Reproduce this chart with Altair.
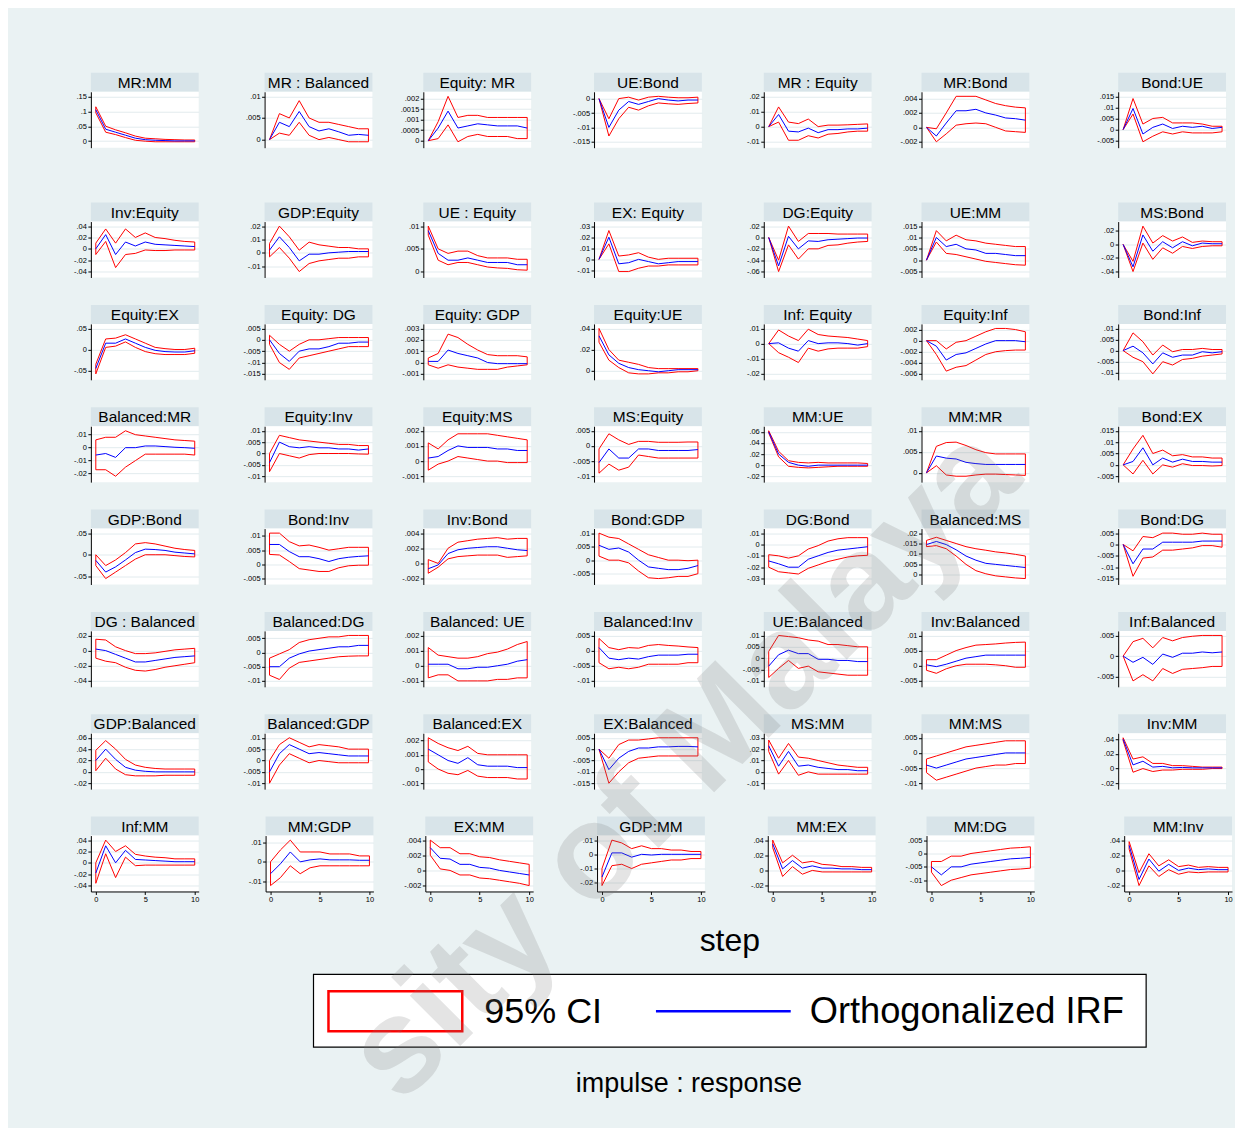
import altair as alt
import pandas as pd

FONT = "Liberation Sans"
STEPS = list(range(11))
STEP_TICKS = [0, 5, 10]

TITLES = [
    "MR:MM", "MR : Balanced", "Equity: MR", "UE:Bond", "MR : Equity", "MR:Bond", "Bond:UE",
    "Inv:Equity", "GDP:Equity", "UE : Equity", "EX: Equity", "DG:Equity", "UE:MM", "MS:Bond",
    "Equity:EX", "Equity: DG", "Equity: GDP", "Equity:UE", "Inf: Equity", "Equity:Inf", "Bond:Inf",
    "Balanced:MR", "Equity:Inv", "Equity:MS", "MS:Equity", "MM:UE", "MM:MR", "Bond:EX",
    "GDP:Bond", "Bond:Inv", "Inv:Bond", "Bond:GDP", "DG:Bond", "Balanced:MS", "Bond:DG",
    "DG : Balanced", "Balanced:DG", "Balanced: UE", "Balanced:Inv", "UE:Balanced", "Inv:Balanced", "Inf:Balanced",
    "GDP:Balanced", "Balanced:GDP", "Balanced:EX", "EX:Balanced", "MS:MM", "MM:MS", "Inv:MM",
    "Inf:MM", "MM:GDP", "EX:MM", "GDP:MM", "MM:EX", "MM:DG", "MM:Inv",
]

YTICKS = [
    [0, .05, .1, .15], [0, .005, .01], [0, .0005, .001, .0015, .002], [-.015, -.01, -.005, 0],
    [-.01, 0, .01, .02], [-.002, 0, .002, .004], [-.005, 0, .005, .01, .015],
    [-.04, -.02, 0, .02, .04], [-.01, 0, .01, .02], [0, .005, .01], [-.01, 0, .01, .02, .03],
    [-.06, -.04, -.02, 0, .02], [-.005, 0, .005, .01, .015], [-.04, -.02, 0, .02],
    [-.05, 0, .05], [-.015, -.01, -.005, 0, .005], [-.001, 0, .001, .002, .003], [0, .02, .04],
    [-.02, -.01, 0, .01], [-.006, -.004, -.002, 0, .002], [-.01, -.005, 0, .005, .01],
    [-.02, -.01, 0, .01], [-.01, -.005, 0, .005, .01], [-.001, 0, .001, .002], [-.01, -.005, 0, .005],
    [-.02, 0, .02, .04, .06], [0, .005, .01], [-.005, 0, .005, .01, .015],
    [-.05, 0, .05], [-.005, 0, .005, .01], [-.002, 0, .002, .004], [-.005, 0, .005, .01],
    [-.03, -.02, -.01, 0, .01], [0, .005, .01, .015, .02], [-.015, -.01, -.005, 0, .005],
    [-.04, -.02, 0, .02], [-.01, -.005, 0, .005], [-.001, 0, .001, .002], [-.01, -.005, 0, .005],
    [-.01, -.005, 0, .005, .01], [-.005, 0, .005, .01], [-.005, 0, .005],
    [-.02, 0, .02, .04, .06], [-.01, -.005, 0, .005, .01], [-.001, 0, .001, .002],
    [-.015, -.01, -.005, 0, .005], [-.01, 0, .01, .02, .03], [-.01, -.005, 0, .005], [-.02, 0, .02, .04],
    [-.04, -.02, 0, .02, .04], [-.01, 0, .01], [-.002, 0, .002, .004], [-.02, -.01, 0, .01],
    [-.02, 0, .02, .04], [-.01, -.005, 0, .005], [-.02, 0, .02, .04],
]

LOWER = [
    [0.095, 0.03, 0.022, 0.012, 0.003, 0, -0.002, -0.002, -0.002, -0.002, -0.002],
    [0, 0.0015, 0.001, 0.004, 0.001, 0, 0.0005, 0, -0.0005, -0.0005, -0.0005],
    [0, 0.0001, 0.00075, -0.00005, 0.0002, 0.0003, 0.0002, 0.0002, 0.0002, 0.0001, 0.0001],
    [0, -0.013, -0.007, -0.003, -0.004, -0.0025, -0.0015, -0.0018, -0.002, -0.0017, -0.0015],
    [0, 0.003, -0.009, -0.009, -0.006, -0.0075, -0.005, -0.0045, -0.0035, -0.003, -0.003],
    [0, -0.002, -0.0009, 0.0003, 0.0005, 0.0006, 0.0005, 0, -0.0005, -0.0006, -0.0007],
    [0, 0.007, -0.0055, -0.003, -0.001, -0.002, -0.001, -0.0015, -0.0015, -0.0015, -0.001],
    [-0.01, 0.013, -0.033, -0.01, -0.008, -0.002, -0.003, -0.003, -0.002, -0.002, -0.002],
    [-0.003, 0.004, -0.004, -0.014, -0.008, -0.006, -0.005, -0.004, -0.004, -0.003, -0.003],
    [0.008, 0.0025, 0.0015, 0.002, 0.002, 0.0015, 0.001, 0.0008, 0.0007, 0.0004, 0.0003],
    [0, 0.014, -0.011, -0.011, -0.008, -0.006, -0.006, -0.005, -0.005, -0.005, -0.005],
    [0, -0.06, -0.013, -0.038, -0.02, -0.02, -0.014, -0.013, -0.01, -0.008, -0.007],
    [0, 0.008, 0.003, 0.0025, 0.0015, 0.0005, -0.0005, -0.001, -0.0015, -0.002, -0.0022],
    [0, -0.04, 0.002, -0.022, -0.005, -0.013, -0.003, -0.006, -0.003, -0.002, -0.002],
    [-0.058, 0.005, 0.008, 0.018, 0.005, -0.005, -0.01, -0.012, -0.012, -0.012, -0.009],
    [-0.002, -0.01, -0.013, -0.008, -0.007, -0.006, -0.005, -0.004, -0.003, -0.003, -0.003],
    [-0.0002, -0.0005, -0.0002, -0.0004, -0.0005, -0.0006, -0.0006, -0.0006, -0.0004, -0.0003, -0.0002],
    [0.027, 0.01, 0.003, -0.002, -0.003, -0.003, -0.002, -0.002, -0.001, -0.001, 0],
    [0, -0.006, -0.009, -0.0125, -0.003, -0.005, -0.0035, -0.003, -0.003, -0.003, -0.002],
    [0, -0.0025, -0.0055, -0.0048, -0.0045, -0.0035, -0.0025, -0.002, -0.0018, -0.0017, -0.0017],
    [0, -0.003, -0.005, -0.0105, -0.005, -0.0065, -0.004, -0.0035, -0.0025, -0.002, -0.0015],
    [-0.017, -0.017, -0.022, -0.015, -0.01, -0.005, -0.005, -0.005, -0.005, -0.005, -0.0057],
    [-0.008, 0, -0.001, -0.002, -0.0005, 0, 0, 0, 0, -0.0002, -0.0003],
    [-0.0006, -0.0002, 0, 0.0003, 0.0002, 0.0001, 0, 0, -0.0001, -0.0001, -0.0001],
    [-0.009, -0.006, -0.008, -0.007, -0.003, -0.0035, -0.004, -0.004, -0.004, -0.004, -0.004],
    [0.058, 0.015, -0.002, -0.004, -0.005, -0.004, -0.003, -0.002, -0.002, -0.002, -0.002],
    [0, 0.0017, -0.0005, -0.0008, -0.0008, -0.0005, -0.0003, -0.0003, -0.0004, -0.0005, -0.0006],
    [0, -0.004, 0.002, -0.004, 0, -0.001, 0.0005, -0.0003, -0.0003, -0.0005, -0.0003],
    [-0.025, -0.055, -0.04, -0.025, -0.01, 0, 0, 0, -0.002, -0.004, -0.005],
    [0.0035, 0.0033, 0.001, -0.0015, -0.002, -0.0025, -0.0025, -0.0012, -0.0005, -0.0003, -0.0003],
    [-0.0013, -0.0005, 0.0006, 0.0009, 0.001, 0.0011, 0.0011, 0.0011, 0.0008, 0.0009, 0.001],
    [0.0015, 0, 0, -0.001, -0.004, -0.0065, -0.0068, -0.0065, -0.006, -0.006, -0.005],
    [-0.02, -0.024, -0.025, -0.026, -0.021, -0.018, -0.015, -0.013, -0.011, -0.01, -0.0095],
    [0.0135, 0.014, 0.0125, 0.009, 0.005, 0.002, 0.0005, -0.0005, -0.001, -0.0015, -0.0018],
    [0, -0.014, -0.006, -0.0055, -0.0025, -0.0025, -0.002, -0.0015, -0.0005, -0.0005, -0.0012],
    [-0.01, -0.014, -0.016, -0.022, -0.026, -0.027, -0.025, -0.022, -0.02, -0.018, -0.016],
    [-0.008, -0.0095, -0.0055, -0.0035, -0.003, -0.0025, -0.002, -0.0015, -0.0013, -0.0012, -0.0012],
    [-0.0008, -0.0006, -0.0006, -0.001, -0.001, -0.001, -0.001, -0.0009, -0.0009, -0.0008, -0.0008],
    [-0.004, -0.006, -0.0055, -0.006, -0.0055, -0.0045, -0.0045, -0.0045, -0.0045, -0.004, -0.004],
    [-0.0085, -0.0045, -0.001, -0.0045, -0.0035, -0.006, -0.0065, -0.007, -0.0075, -0.0075, -0.0075],
    [-0.0015, -0.0025, -0.001, 0, 0.0005, 0.0005, 0.0005, 0.0003, 0, -0.0005, -0.0005],
    [0, -0.006, -0.0045, -0.006, -0.003, -0.0042, -0.0032, -0.003, -0.0028, -0.0025, -0.0025],
    [0.002, 0.024, 0.005, -0.005, -0.007, -0.007, -0.007, -0.006, -0.006, -0.006, -0.006],
    [-0.01, -0.002, 0.003, 0.001, -0.001, 0, -0.0005, -0.001, -0.001, -0.001, -0.001],
    [0.0005, 0, -0.0003, -0.0004, -0.0001, -0.0005, -0.0006, -0.0006, -0.0006, -0.0007, -0.0007],
    [0, -0.015, -0.01, -0.006, -0.004, -0.0035, -0.003, -0.003, -0.003, -0.003, -0.003],
    [0.018, -0.002, 0.01, -0.003, 0, -0.002, -0.002, -0.002, -0.002, -0.002, -0.002],
    [-0.0065, -0.009, -0.008, -0.007, -0.006, -0.005, -0.0045, -0.004, -0.004, -0.0035, -0.0035],
    [0.038, -0.005, 0, -0.004, -0.002, -0.002, -0.001, -0.001, -0.001, 0, 0],
    [-0.036, 0.016, -0.026, 0.01, -0.005, -0.004, -0.004, -0.004, -0.004, -0.004, -0.004],
    [-0.012, -0.008, -0.002, -0.006, -0.003, -0.002, -0.002, -0.002, -0.002, -0.002, -0.002],
    [0.002, 0.0002, 0, -0.0006, -0.0006, -0.001, -0.0011, -0.0013, -0.0015, -0.0017, -0.002],
    [-0.022, -0.008, -0.007, -0.01, -0.007, -0.006, -0.005, -0.004, -0.004, -0.003, -0.003],
    [0.03, -0.008, 0.005, -0.005, 0, -0.002, -0.002, -0.002, -0.002, -0.002, -0.002],
    [-0.007, -0.012, -0.01, -0.009, -0.008, -0.0075, -0.007, -0.0065, -0.006, -0.0058, -0.0055],
    [0.028, -0.02, 0.006, -0.008, 0.001, -0.005, -0.002, -0.003, -0.002, -0.002, -0.002],
]

IRF = [
    [0.105, 0.04, 0.03, 0.02, 0.01, 0.005, 0.003, 0.002, 0.001, 0.001, 0.001],
    [0, 0.004, 0.003, 0.0065, 0.003, 0.002, 0.0025, 0.0018, 0.001, 0.0012, 0.001],
    [0, 0.0006, 0.0014, 0.0006, 0.0007, 0.0008, 0.00075, 0.0007, 0.0007, 0.0007, 0.0006],
    [0, -0.01, -0.004, -0.001, -0.002, -0.001, 0, -0.0005, -0.0008, -0.0005, -0.0005],
    [0, 0.008, -0.003, -0.0035, -0.001, -0.004, -0.002, -0.002, -0.0015, -0.0015, -0.001],
    [0, -0.0012, 0.0006, 0.0023, 0.0023, 0.0025, 0.002, 0.0017, 0.0013, 0.0012, 0.001],
    [0, 0.0095, -0.002, 0.001, 0.0025, 0.0005, 0.0015, 0.001, 0.0015, 0.0005, 0.001],
    [0, 0.025, -0.01, 0.012, 0.005, 0.012, 0.008, 0.007, 0.006, 0.005, 0.004],
    [0.002, 0.012, 0.004, -0.006, -0.001, -0.001, 0, 0.0005, 0.001, 0.001, 0.001],
    [0.009, 0.004, 0.0025, 0.0025, 0.003, 0.0025, 0.002, 0.002, 0.002, 0.0015, 0.0015],
    [0, 0.02, -0.004, -0.003, 0, -0.002, -0.004, -0.003, -0.002, -0.002, -0.002],
    [0, -0.05, 0.002, -0.02, -0.006, -0.007, -0.004, -0.003, -0.002, -0.001, -0.001],
    [0, 0.01, 0.006, 0.007, 0.005, 0.0045, 0.003, 0.003, 0.0025, 0.002, 0.002],
    [0, -0.033, 0.014, -0.01, 0.004, -0.005, 0.004, -0.002, 0.002, 0.001, 0.001],
    [-0.045, 0.015, 0.015, 0.025, 0.015, 0.005, -0.002, -0.005, -0.006, -0.006, -0.003],
    [0, -0.006, -0.0095, -0.005, -0.004, -0.004, -0.003, -0.0015, -0.0015, -0.001, -0.001],
    [0.0001, 0.0001, 0.0011, 0.0008, 0.0006, 0.0004, 0, -0.0001, -0.0001, -0.0001, -0.0001],
    [0.033, 0.015, 0.007, 0.003, 0.001, 0, -0.001, 0, 0.001, 0.001, 0.001],
    [0, 0.0005, -0.003, -0.005, 0.002, 0, 0.0005, 0.0005, 0, -0.001, 0],
    [0, -0.001, -0.0035, -0.0025, -0.0022, -0.0014, -0.0006, 0, 0, 0, -0.0002],
    [0, 0.002, -0.001, -0.006, -0.001, -0.003, -0.002, -0.002, -0.0005, -0.001, -0.0005],
    [-0.0057, -0.0045, -0.0075, 0, 0, 0.0013, 0.0013, 0.0008, 0.0003, 0, -0.0005],
    [-0.004, 0.005, 0.003, 0.0025, 0.003, 0.0025, 0.0025, 0.002, 0.002, 0.0015, 0.002],
    [0.0002, 0.0003, 0.0007, 0.001, 0.0009, 0.0009, 0.0009, 0.0008, 0.0008, 0.0007, 0.0007],
    [-0.0055, -0.001, -0.004, -0.004, -0.001, -0.001, -0.0015, -0.0015, -0.0015, -0.0015, -0.0012],
    [0.06, 0.02, 0.005, 0, -0.002, 0, 0, 0, 0, 0, 0],
    [0, 0.004, 0.0035, 0.0033, 0.0025, 0.0022, 0.002, 0.002, 0.002, 0.002, 0.002],
    [0, 0.0015, 0.0075, 0, 0.003, 0.0012, 0.0025, 0.0015, 0.0015, 0.0012, 0.0012],
    [-0.013, -0.04, -0.028, -0.012, 0.005, 0.013, 0.012, 0.01, 0.006, 0.004, 0.002],
    [0.007, 0.007, 0.0045, 0.0027, 0.0027, 0.002, 0.001, 0.002, 0.0025, 0.0028, 0.003],
    [-0.0007, -0.0002, 0.0013, 0.0018, 0.002, 0.0021, 0.0022, 0.0022, 0.002, 0.0018, 0.0017],
    [0.0055, 0.004, 0.0045, 0.003, 0, -0.0025, -0.003, -0.0035, -0.0035, -0.003, -0.002],
    [-0.0145, -0.017, -0.02, -0.02, -0.013, -0.01, -0.007, -0.005, -0.004, -0.003, -0.002],
    [0.0145, 0.016, 0.0145, 0.012, 0.009, 0.007, 0.0055, 0.005, 0.0045, 0.004, 0.0035],
    [0, -0.0085, -0.002, -0.002, 0.001, 0.001, 0.001, 0.001, 0.0015, 0.0015, 0.0015],
    [0.002, 0, -0.005, -0.01, -0.015, -0.015, -0.013, -0.011, -0.009, -0.008, -0.007],
    [-0.005, -0.005, -0.002, -0.0005, 0.0005, 0.001, 0.0015, 0.002, 0.002, 0.0025, 0.0025],
    [0.0001, 0.0001, 0.0001, -0.0002, -0.0002, -0.0001, -0.0001, 0, 0.0001, 0.0003, 0.0004],
    [0.001, -0.0025, -0.003, -0.0025, -0.0028, -0.002, -0.0015, -0.0015, -0.0015, -0.0012, -0.0012],
    [-0.0035, 0.0015, 0.0035, 0.002, 0.002, -0.0005, -0.0005, -0.001, -0.001, -0.0015, -0.0015],
    [0.0003, -0.0003, 0.0005, 0.0015, 0.0025, 0.003, 0.0035, 0.0035, 0.0035, 0.0035, 0.0035],
    [0, -0.0015, -0.0003, -0.002, 0.0005, -0.0003, 0.0007, 0.0007, 0.001, 0.0008, 0.001],
    [0.02, 0.04, 0.022, 0.008, 0.003, 0.001, 0, 0, 0, 0, 0],
    [-0.005, 0.003, 0.007, 0.005, 0.003, 0.0035, 0.003, 0.0025, 0.002, 0.002, 0.002],
    [0.0014, 0.001, 0.0006, 0.0004, 0.0008, 0.0003, 0.0002, 0.0002, 0.0002, 0.0001, 0.0001],
    [0, -0.009, -0.004, -0.001, 0.0005, 0.0005, 0.001, 0.001, 0.0012, 0.0012, 0.001],
    [0.023, 0.005, 0.018, 0.005, 0.006, 0.004, 0.003, 0.002, 0.002, 0.001, 0.001],
    [-0.004, -0.005, -0.004, -0.003, -0.002, -0.0015, -0.001, -0.0005, 0, 0, 0],
    [0.04, 0.005, 0.01, 0.002, 0.003, 0.001, 0.0015, 0.001, 0.001, 0.001, 0.001],
    [-0.018, 0.03, 0, 0.022, 0.006, 0.005, 0.004, 0.003, 0.002, 0.002, 0.002],
    [-0.006, -0.001, 0.005, 0, 0.001, 0.0015, 0.001, 0.001, 0.001, 0.0008, 0.0008],
    [0.003, 0.0016, 0.0015, 0.0008, 0.0008, 0.0004, 0.0003, 0, -0.0002, -0.0004, -0.0006],
    [-0.016, 0.001, 0.001, -0.002, 0, -0.0005, 0, 0, 0, 0, 0],
    [0.035, 0.002, 0.013, 0.003, 0.006, 0.003, 0.003, 0.002, 0.002, 0.001, 0.001],
    [-0.005, -0.008, -0.005, -0.005, -0.004, -0.0035, -0.003, -0.0025, -0.002, -0.0018, -0.0015],
    [0.033, -0.012, 0.015, -0.001, 0.008, 0, 0.003, 0.001, 0.002, 0.001, 0.001],
]

UPPER = [
    [0.115, 0.05, 0.038, 0.028, 0.017, 0.01, 0.008, 0.006, 0.005, 0.004, 0.004],
    [0, 0.006, 0.005, 0.009, 0.005, 0.004, 0.004, 0.0035, 0.003, 0.0025, 0.0025],
    [0, 0.0009, 0.0021, 0.0011, 0.0012, 0.0012, 0.0011, 0.0011, 0.0011, 0.0011, 0.0011],
    [0, -0.007, 0, 0.0005, -0.0005, 0.0005, 0.0008, 0.0005, 0.0003, 0.0003, 0.0005],
    [0, 0.013, 0.003, 0.002, 0.005, 0, 0.001, 0.001, 0.0012, 0.0015, 0.0018],
    [0, -0.0002, 0.002, 0.0043, 0.0043, 0.0043, 0.0038, 0.0033, 0.003, 0.0028, 0.0027],
    [0, 0.014, 0.0025, 0.005, 0.0055, 0.003, 0.003, 0.003, 0.0025, 0.0015, 0.0015],
    [0.01, 0.035, 0.01, 0.035, 0.02, 0.028, 0.02, 0.018, 0.015, 0.013, 0.012],
    [0.007, 0.02, 0.012, 0.002, 0.008, 0.006, 0.005, 0.004, 0.004, 0.003, 0.003],
    [0.01, 0.005, 0.004, 0.0045, 0.0045, 0.0035, 0.003, 0.003, 0.003, 0.0027, 0.0027],
    [0, 0.026, 0.003, 0.004, 0.006, 0.002, 0, 0.001, 0.001, 0.001, 0.001],
    [0, -0.04, 0.02, -0.007, 0.007, 0.007, 0.007, 0.006, 0.006, 0.006, 0.006],
    [0, 0.013, 0.0085, 0.011, 0.009, 0.0085, 0.0075, 0.007, 0.0065, 0.006, 0.006],
    [0, -0.025, 0.027, 0.002, 0.013, 0.005, 0.011, 0.003, 0.005, 0.004, 0.004],
    [-0.035, 0.025, 0.027, 0.035, 0.025, 0.015, 0.005, 0.002, 0, 0, 0.003],
    [0.002, -0.002, -0.005, -0.002, 0, 0, 0.0005, 0.001, 0.001, 0.001, 0.001],
    [0.0004, 0.0008, 0.0025, 0.0022, 0.0016, 0.0011, 0.0007, 0.0006, 0.0006, 0.0006, 0.0005],
    [0.04, 0.02, 0.01, 0.008, 0.006, 0.003, 0.002, 0.002, 0.002, 0.002, 0.002],
    [0, 0.009, 0.005, 0.002, 0.0095, 0.006, 0.005, 0.0045, 0.004, 0.003, 0.002],
    [0, 0, -0.0015, -0.0003, 0, 0.0008, 0.0016, 0.0022, 0.0022, 0.002, 0.0016],
    [0, 0.008, 0.004, -0.002, 0.0025, -0.0005, 0.0005, 0.0005, 0.001, 0.0005, 0.0005],
    [0.006, 0.008, 0.008, 0.013, 0.01, 0.009, 0.008, 0.007, 0.006, 0.0055, 0.005],
    [0, 0.008, 0.007, 0.006, 0.0055, 0.005, 0.0045, 0.004, 0.004, 0.0035, 0.0035],
    [0.0012, 0.0008, 0.0014, 0.0018, 0.0018, 0.0018, 0.0018, 0.0017, 0.0016, 0.0015, 0.0014],
    [-0.001, 0.004, 0.002, 0.0005, 0.0015, 0.0015, 0.0012, 0.0012, 0.0012, 0.0013, 0.0013],
    [0.062, 0.025, 0.008, 0.005, 0.004, 0.005, 0.004, 0.004, 0.004, 0.004, 0.003],
    [0, 0.0063, 0.0072, 0.0073, 0.0065, 0.0055, 0.0048, 0.0045, 0.0045, 0.0045, 0.0045],
    [0, 0.007, 0.013, 0.005, 0.0065, 0.004, 0.0045, 0.0035, 0.0035, 0.003, 0.003],
    [0, -0.025, -0.012, 0.005, 0.025, 0.028, 0.025, 0.02, 0.015, 0.012, 0.01],
    [0.011, 0.011, 0.008, 0.0065, 0.0068, 0.006, 0.005, 0.0055, 0.006, 0.006, 0.006],
    [0.0005, 0, 0.002, 0.0028, 0.003, 0.0032, 0.0033, 0.0034, 0.0032, 0.0033, 0.0033],
    [0.01, 0.0085, 0.008, 0.006, 0.004, 0.002, 0.001, 0, 0, -0.0002, 0],
    [-0.009, -0.01, -0.012, -0.01, -0.004, -0.001, 0.003, 0.005, 0.006, 0.006, 0.006],
    [0.0165, 0.018, 0.0165, 0.015, 0.0135, 0.0125, 0.0118, 0.011, 0.0105, 0.0098, 0.009],
    [0, -0.0028, 0.0035, 0.003, 0.005, 0.005, 0.0045, 0.0045, 0.005, 0.0045, 0.0045],
    [0.015, 0.014, 0.005, 0, -0.004, -0.004, -0.003, -0.001, 0.001, 0.002, 0.003],
    [-0.002, -0.0005, 0.001, 0.0035, 0.0045, 0.005, 0.0055, 0.0055, 0.006, 0.006, 0.006],
    [0.0012, 0.0007, 0.0006, 0.0005, 0.0005, 0.0006, 0.0008, 0.0009, 0.0011, 0.0014, 0.0016],
    [0.004, 0.001, 0.0003, 0.001, 0.0008, 0.0017, 0.002, 0.0017, 0.0015, 0.0012, 0.001],
    [0.003, 0.01, 0.0095, 0.009, 0.008, 0.0075, 0.006, 0.006, 0.0055, 0.005, 0.005],
    [0.002, 0.002, 0.0035, 0.005, 0.006, 0.0068, 0.007, 0.0072, 0.0075, 0.0077, 0.0078],
    [0, 0.0035, 0.0043, 0.002, 0.0045, 0.0037, 0.0045, 0.0048, 0.005, 0.005, 0.005],
    [0.038, 0.055, 0.04, 0.022, 0.012, 0.008, 0.006, 0.005, 0.005, 0.005, 0.005],
    [0, 0.007, 0.01, 0.008, 0.006, 0.007, 0.0065, 0.006, 0.005, 0.005, 0.005],
    [0.0022, 0.0018, 0.0015, 0.0013, 0.0016, 0.0011, 0.001, 0.001, 0.001, 0.001, 0.001],
    [0, -0.004, 0.002, 0.004, 0.004, 0.0045, 0.005, 0.005, 0.005, 0.005, 0.005],
    [0.028, 0.012, 0.025, 0.013, 0.012, 0.01, 0.008, 0.006, 0.005, 0.004, 0.004],
    [-0.002, -0.001, 0, 0.001, 0.002, 0.0025, 0.003, 0.0035, 0.004, 0.004, 0.004],
    [0.042, 0.013, 0.016, 0.007, 0.007, 0.004, 0.004, 0.003, 0.002, 0.002, 0.002],
    [0, 0.04, 0.02, 0.03, 0.015, 0.012, 0.01, 0.009, 0.007, 0.007, 0.007],
    [0, 0.006, 0.011, 0.005, 0.005, 0.005, 0.004, 0.004, 0.004, 0.003, 0.003],
    [0.004, 0.003, 0.003, 0.0022, 0.0022, 0.0018, 0.0017, 0.0014, 0.0012, 0.001, 0.0008],
    [-0.01, 0.01, 0.008, 0.004, 0.006, 0.004, 0.004, 0.003, 0.003, 0.002, 0.002],
    [0.04, 0.01, 0.02, 0.01, 0.012, 0.008, 0.007, 0.005, 0.005, 0.004, 0.004],
    [-0.003, -0.003, -0.001, -0.001, 0, 0.0005, 0.001, 0.0015, 0.002, 0.0022, 0.0025],
    [0.038, -0.003, 0.022, 0.006, 0.014, 0.005, 0.007, 0.004, 0.005, 0.004, 0.004],
]

LEGEND_LABELS = ["95% CI", "Orthogonalized IRF"]
X_TITLE = "step"
NOTE = "impulse : response"
WATERMARK = "sity of Malaya"

# ---------------- styling ----------------
BG = "#EAF2F3"
TITLE_BG = "#D8E4E9"
GRID = "#E2EBEE"
RED = "#FF0000"
BLUE = "#0000FF"
PLOT_W, PLOT_H, TITLE_H = 108, 56, 19
EXTENTS = [28, 50, 35, 47, 46, 34, 73]
MINUS = "\u2212"
LABEL_EXPR = ("replace(replace(format(datum.value, '~g'), '" + MINUS + "', '-'), '0.', '.')")


def make_panel(i, col, bottom):
    df = pd.DataFrame({"step": STEPS, "lo": LOWER[i], "irf": IRF[i], "hi": UPPER[i]})
    ticks = YTICKS[i]
    allv = list(ticks) + LOWER[i] + IRF[i] + UPPER[i]
    vmin, vmax = min(allv), max(allv)
    span = vmax - vmin
    ydom = [vmin - 0.13 * span, vmax + 0.10 * span]
    xscale = alt.Scale(domain=[-0.5, 10.4], nice=False, zero=False)
    if bottom:
        xaxis = alt.Axis(values=STEP_TICKS, tickCount=20, format="d", title=None,
                         labelFontSize=7.5, tickSize=3, labelPadding=1, grid=False,
                         labelFlush=False, labelOverlap=False, labelAngle=0)
    else:
        xaxis = None
    yaxis = alt.Axis(values=ticks, tickCount=20, title=None, labelExpr=LABEL_EXPR,
                     labelFontSize=7.5, tickSize=3, labelPadding=1.5, grid=True,
                     gridColor=GRID, labelOverlap=False, labelFlush=False,
                     minExtent=EXTENTS[col], maxExtent=EXTENTS[col])
    base = alt.Chart(df)
    band = base.mark_area(fillOpacity=0, stroke=RED, strokeWidth=1).encode(
        x=alt.X("step:Q", scale=xscale, axis=xaxis),
        y=alt.Y("lo:Q", scale=alt.Scale(domain=ydom, nice=False, zero=False), axis=yaxis),
        y2="hi:Q",
    )
    irf = base.mark_line(color=BLUE, strokeWidth=1).encode(x="step:Q", y="irf:Q")
    plot = alt.layer(band, irf).properties(
        width=PLOT_W, height=PLOT_H,
        view=alt.ViewBackground(fill="white", strokeWidth=0))
    tdf = pd.DataFrame({"t": [TITLES[i]]})
    head = alt.Chart(tdf).mark_text(font=FONT, fontSize=15.5, color="black",
                                    baseline="middle", align="center").encode(
        text="t:N", x=alt.value(PLOT_W / 2), y=alt.value(TITLE_H / 2 + 0.5)
    ).properties(width=PLOT_W, height=TITLE_H,
                 view=alt.ViewBackground(fill=TITLE_BG, strokeWidth=0))
    return alt.vconcat(head, plot, spacing=0, bounds="flush")


rows = []
for r in range(8):
    rows.append(alt.hconcat(*[make_panel(r * 7 + c, c, r == 7) for c in range(7)], spacing=16))

# ---------------- bottom: axis title, legend, note ----------------
# (this block's origin sits at the first plot's left edge)
one = pd.DataFrame({"a": [0]})
step_text = alt.Chart(pd.DataFrame({"t": [X_TITLE]})).mark_text(
    font=FONT, fontSize=32, color="black", baseline="middle", align="center").encode(
    text="t:N", x=alt.value(640), y=alt.value(31))
box = alt.Chart(one).mark_rect(fill="white", stroke="black", strokeWidth=1.2).encode(
    x=alt.value(223), x2=alt.value(1057), y=alt.value(64), y2=alt.value(137))
ci_sym = alt.Chart(one).mark_rect(fill="white", stroke=RED, strokeWidth=2.5).encode(
    x=alt.value(238), x2=alt.value(372), y=alt.value(81), y2=alt.value(121))
irf_sym = alt.Chart(one).mark_rule(color=BLUE, strokeWidth=2.5).encode(
    x=alt.value(566), x2=alt.value(701), y=alt.value(101))
ci_lab = alt.Chart(pd.DataFrame({"t": [LEGEND_LABELS[0]]})).mark_text(
    font=FONT, fontSize=36, color="black", baseline="middle", align="left").encode(
    text="t:N", x=alt.value(394), y=alt.value(102))
irf_lab = alt.Chart(pd.DataFrame({"t": [LEGEND_LABELS[1]]})).mark_text(
    font=FONT, fontSize=36.3, color="black", baseline="middle", align="left").encode(
    text="t:N", x=alt.value(720), y=alt.value(102))
note = alt.Chart(pd.DataFrame({"t": [NOTE]})).mark_text(
    font=FONT, fontSize=27, color="black", baseline="middle", align="center").encode(
    text="t:N", x=alt.value(599), y=alt.value(174))
deco = alt.layer(step_text, box, ci_sym, irf_sym, ci_lab, irf_lab, note).properties(
    width=1120, height=195)

lower_block = alt.vconcat(*rows[1:], spacing=27.5)
body = alt.vconcat(lower_block, deco, spacing=7)
chart = alt.vconcat(rows[0], body, spacing=55).properties(
    background=BG,
    padding={"left": 55, "top": 64, "right": 2, "bottom": 2},
    title=alt.Title(WATERMARK, orient="top", anchor="start", frame="bounds", offset=0,
                    angle=315, align="center", baseline="middle", dx=-560, dy=1440,
                    fontSize=135, font=FONT, fontWeight="bold",
                    color="rgba(120,120,120,0.2)", zindex=1),
).configure_view(strokeWidth=0).configure_axis(
    labelFont=FONT, labelColor="black", tickColor="black", domainColor="black",
    domainWidth=1, tickWidth=1)

chart.save("out.html", embed_options={"renderer": "svg", "actions": False})
